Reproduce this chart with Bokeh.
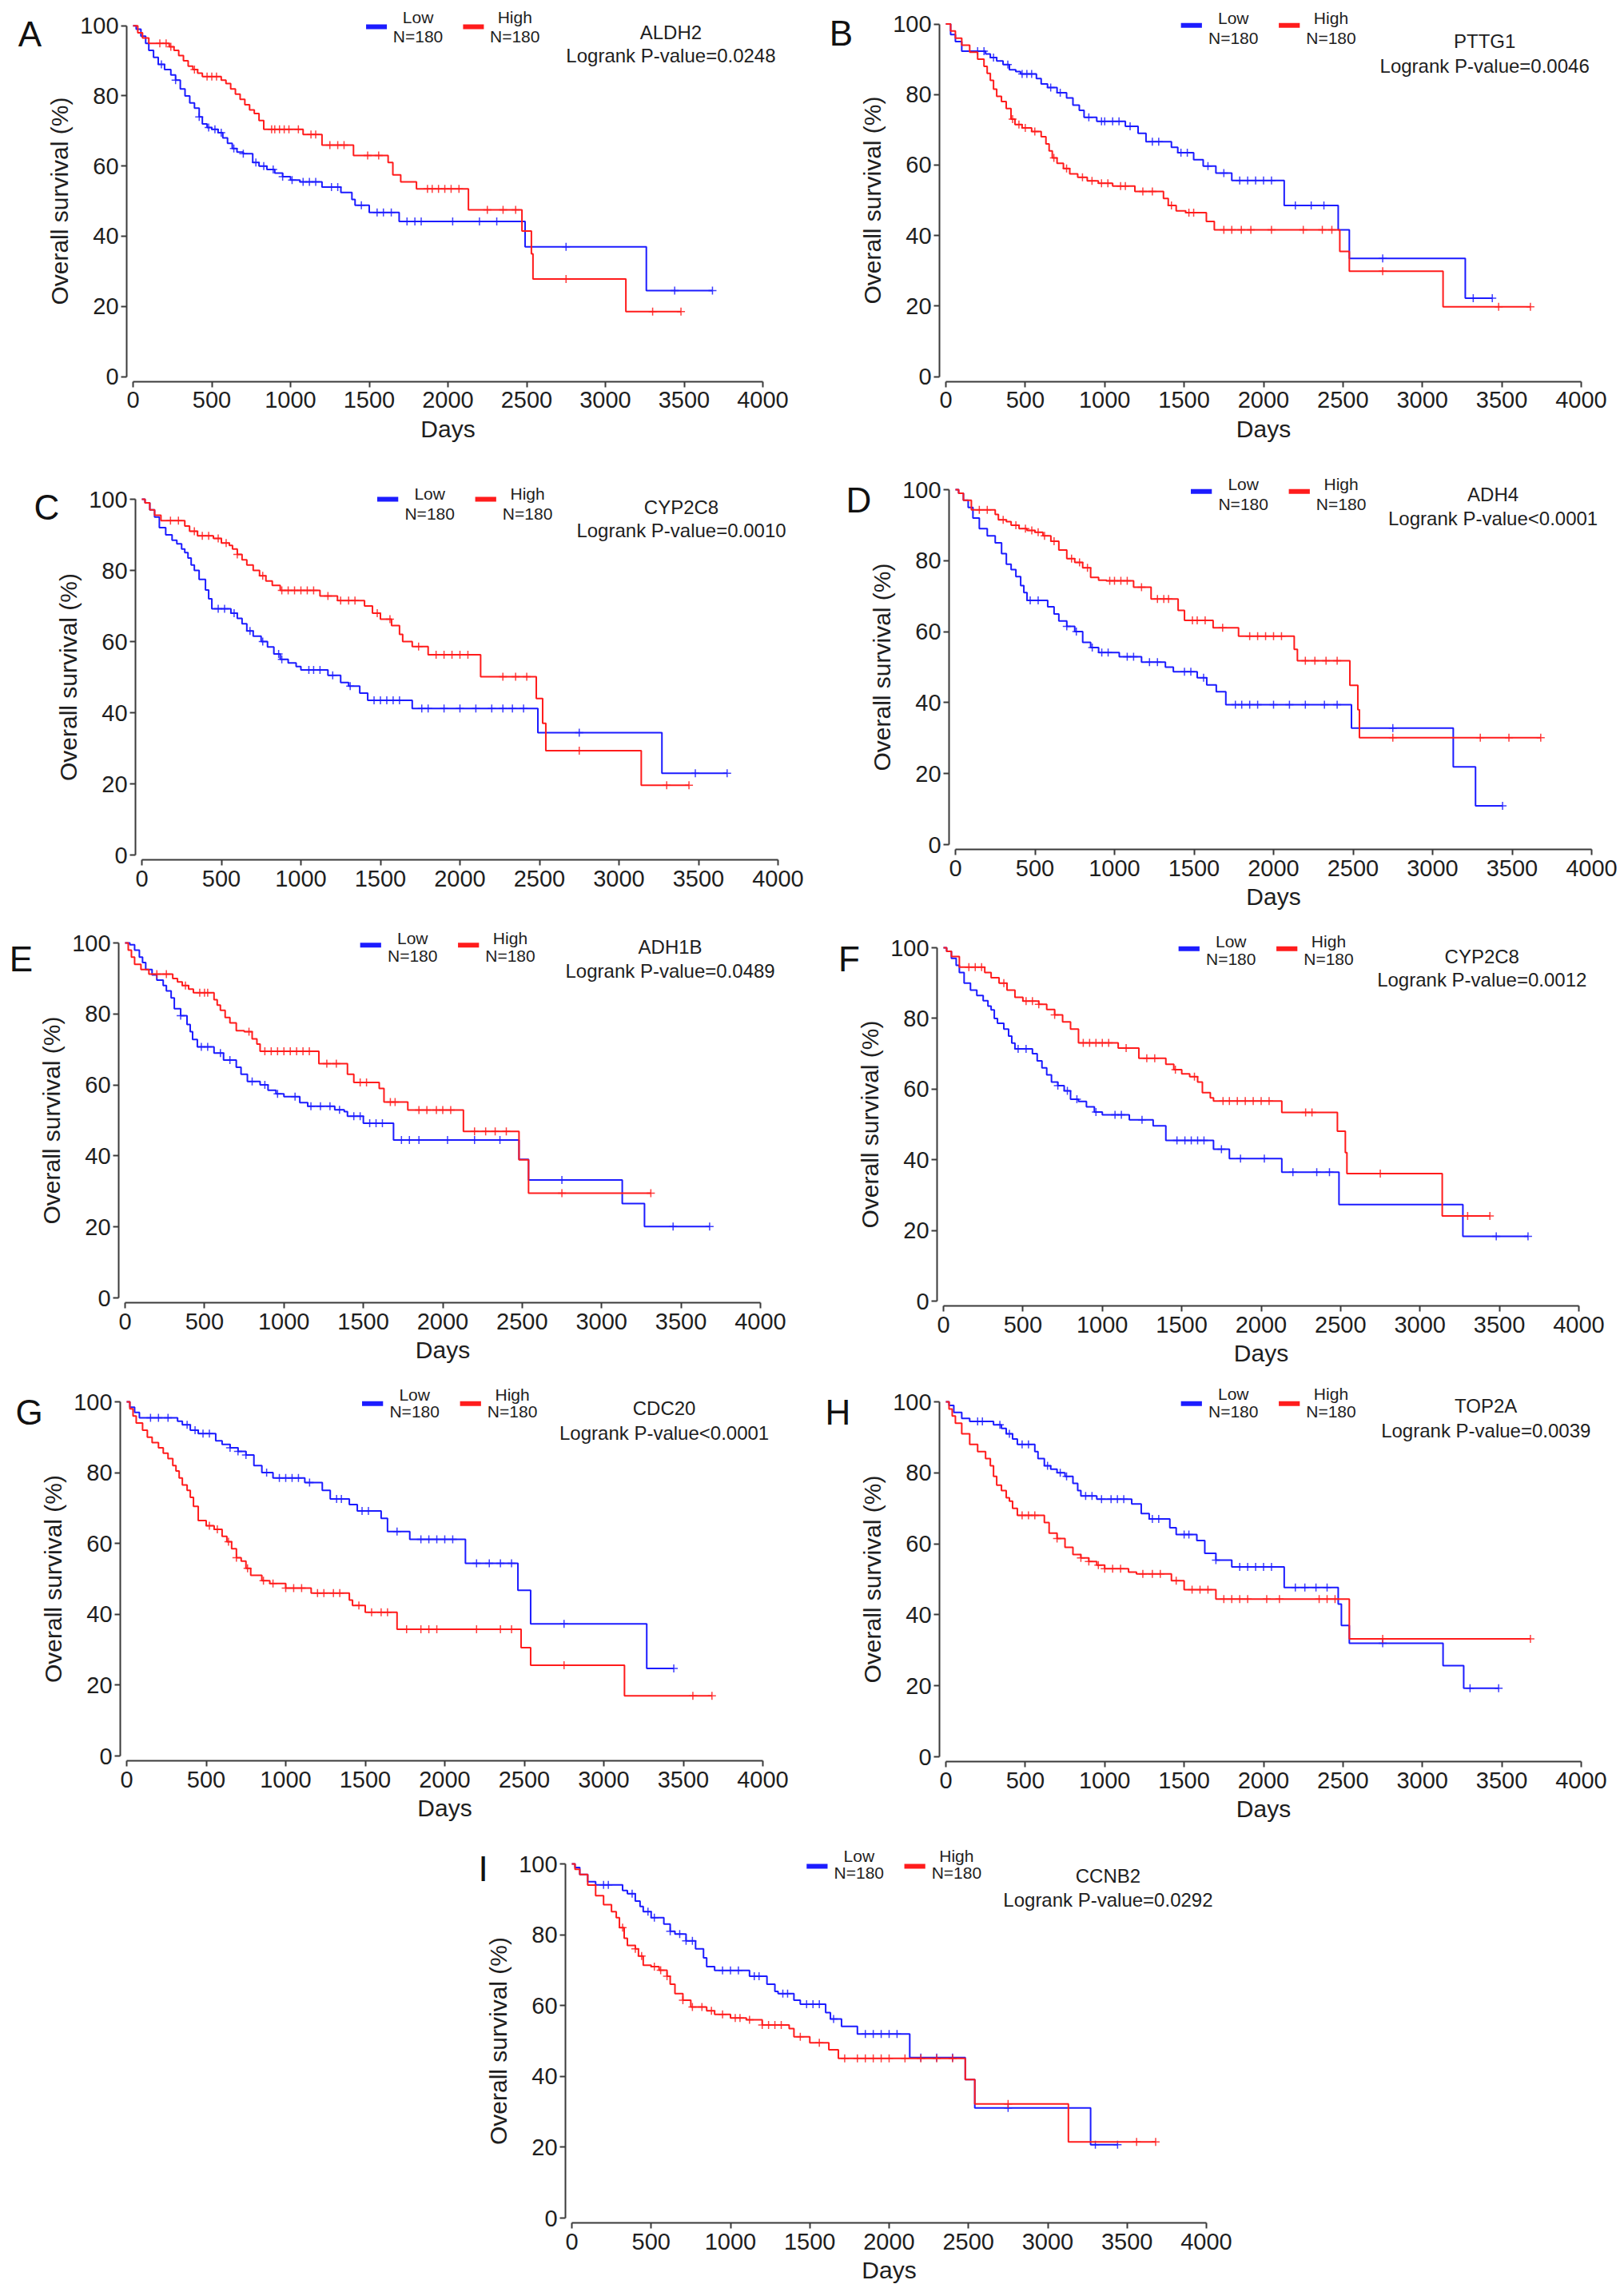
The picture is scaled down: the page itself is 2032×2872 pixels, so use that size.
import math
import numpy as np
from bokeh.plotting import figure
from bokeh.layouts import column, row, Spacer
from bokeh.models import Range1d, FixedTicker, Label
from bokeh.embed import file_html
from bokeh.resources import INLINE

# ---------------- data ----------------
PANELS = ["A", "B", "C", "D", "E", "F", "G", "H", "I"]
GENES = ["ALDH2", "PTTG1", "CYP2C8", "ADH4", "ADH1B", "CYP2C8", "CDC20", "TOP2A", "CCNB2"]
PVALUES = ["Logrank P-value=0.0248", "Logrank P-value=0.0046", "Logrank P-value=0.0010",
           "Logrank P-value<0.0001", "Logrank P-value=0.0489", "Logrank P-value=0.0012",
           "Logrank P-value<0.0001", "Logrank P-value=0.0039", "Logrank P-value=0.0292"]
X_TICKS = [0, 500, 1000, 1500, 2000, 2500, 3000, 3500, 4000]
Y_TICKS = [0, 20, 40, 60, 80, 100]
X_LABEL = "Days"
Y_LABEL = "Overall survival (%)"
GROUP_LABELS = ["Low", "High"]
GROUP_N = ["N=180", "N=180"]

A_low_t = [20, 50, 80, 100, 130, 160, 200, 240, 270, 300, 330, 360, 390, 420, 440, 470, 500, 540, 570, 600, 630, 660, 700, 760, 800, 850, 900, 950, 1000, 1060, 1200, 1320, 1390, 1410, 1500, 1690, 2490, 3260]
A_low_s = [99, 97, 95, 93, 91, 89, 87.5, 86, 84.5, 82, 80, 78, 76.5, 74, 72, 71, 70.5, 69.5, 68, 66.5, 65, 64, 63.5, 61, 60, 59, 58, 57, 56, 55.5, 54, 52.5, 50.5, 48.8, 46.8, 44.2, 37, 24.5]
A_low_end = 3680
A_low_c = [180, 270, 420, 480, 520, 560, 640, 700, 780, 830, 890, 950, 1010, 1080, 1120, 1160, 1260, 1300, 1450, 1550, 1590, 1640, 1740, 1790, 1830, 2030, 2200, 2310, 2750, 3440]
A_high_t = [30, 60, 100, 230, 260, 290, 320, 350, 380, 410, 440, 560, 590, 620, 650, 680, 710, 740, 770, 800, 830, 1080, 1200, 1400, 1620, 1650, 1700, 1800, 2130, 2470, 2530, 2540, 3130]
A_high_s = [98, 96.5, 95, 94, 93, 91.5, 90, 88.5, 87.5, 86.5, 85.5, 84.5, 83.5, 82, 80.5, 79, 77.5, 76, 75, 73, 70.5, 69, 66, 63, 61, 57.5, 55.5, 53.5, 47.5, 41.5, 35, 27.8, 18.5]
A_high_end = 3480
A_high_c = [170, 210, 240, 390, 470, 500, 530, 880, 900, 930, 960, 990, 1050, 1130, 1160, 1250, 1300, 1340, 1490, 1560, 1870, 1900, 1940, 1980, 2020, 2070, 2250, 2350, 2430, 2750, 3300]

B_low_t = [30, 60, 100, 250, 280, 320, 360, 400, 440, 470, 570, 600, 640, 700, 760, 800, 840, 870, 950, 1130, 1210, 1260, 1420, 1460, 1560, 1620, 1700, 1800, 2130, 2470, 2540, 3270]
B_low_s = [97, 95, 92.3, 91.5, 90.5, 89.5, 88.5, 87, 86.5, 85.8, 84.5, 83, 82, 80.5, 79, 77, 75.5, 73.5, 72.4, 71, 69, 66.6, 65, 63.5, 61.5, 59.7, 57.7, 55.6, 48.5, 41.6, 33.5, 22.2]
B_low_end = 3440
B_low_c = [200, 240, 300, 390, 480, 510, 540, 660, 720, 900, 980, 1000, 1050, 1090, 1160, 1300, 1340, 1480, 1520, 1650, 1750, 1850, 1900, 1950, 2000, 2050, 2200, 2300, 2380, 2750, 3320]
B_high_t = [30, 60, 100, 150, 200, 240, 260, 280, 300, 320, 350, 380, 410, 435, 480, 540, 600, 630, 650, 670, 700, 740, 780, 830, 890, 960, 1050, 1190, 1370, 1400, 1450, 1510, 1640, 1690, 2480, 2540, 3130]
B_high_s = [98, 96, 94, 92, 90, 88, 86, 84, 81.5, 79.5, 78, 76, 73, 71.5, 70.5, 69.5, 68, 66, 64, 62, 60.5, 59, 57.5, 56.5, 55.5, 54.8, 54, 52.5, 50.5, 48.5, 47, 46.5, 44, 41.6, 35.5, 29.9, 19.8]
B_high_end = 3680
B_high_c = [420, 460, 500, 560, 680, 760, 860, 920, 980, 1020, 1100, 1130, 1240, 1300, 1420, 1530, 1560, 1750, 1800, 1860, 1920, 2050, 2250, 2370, 2430, 2750, 3480]

C_low_t = [20, 50, 80, 110, 150, 190, 220, 250, 270, 290, 310, 330, 360, 400, 420, 440, 560, 600, 630, 660, 700, 750, 790, 830, 870, 920, 970, 1000, 1170, 1250, 1300, 1370, 1420, 1700, 2490, 3270]
C_low_s = [99, 97, 95, 92, 90, 88.5, 87.5, 86, 85, 83.5, 81.5, 80, 77.5, 74.5, 72, 69.2, 68, 66.5, 65, 63, 61.5, 60, 58.5, 56.5, 55, 54, 53, 52, 50.5, 48.5, 47.5, 45.5, 43.5, 41.2, 34.4, 23]
C_low_end = 3680
C_low_c = [480, 520, 580, 680, 760, 860, 880, 1050, 1080, 1120, 1200, 1310, 1460, 1500, 1540, 1580, 1620, 1760, 1800, 1900, 2000, 2100, 2200, 2270, 2330, 2400, 2750, 3480]
C_high_t = [20, 50, 80, 120, 270, 300, 350, 450, 500, 550, 570, 600, 630, 660, 700, 740, 780, 820, 870, 1120, 1230, 1400, 1450, 1500, 1570, 1620, 1640, 1700, 1800, 2130, 2480, 2520, 2540, 3140]
C_high_s = [99, 97, 95.5, 94, 92.5, 91, 89.7, 89, 87.7, 87, 86, 84.5, 83, 81.5, 80, 78.5, 77, 75.8, 74.4, 72.8, 71.5, 70, 68, 66.3, 64.5, 62, 60, 58.6, 56.3, 50.1, 44, 37, 29.3, 19.6]
C_high_end = 3440
C_high_c = [180, 230, 330, 380, 420, 480, 530, 600, 760, 880, 920, 960, 1000, 1040, 1080, 1170, 1250, 1300, 1340, 1480, 1560, 1740, 1850, 1900, 1950, 2000, 2050, 2270, 2350, 2420, 2750, 3300]

D_low_t = [20, 50, 80, 110, 150, 200, 250, 290, 320, 350, 380, 410, 430, 450, 580, 620, 650, 700, 750, 800, 850, 900, 1030, 1170, 1320, 1370, 1520, 1580, 1640, 1700, 2490, 3130, 3270]
D_low_s = [99, 97, 95, 92, 89, 87, 85, 82, 79, 77.5, 75.5, 73, 71, 68.8, 67, 65, 63, 61.5, 60, 57, 55.5, 54.1, 52.9, 51.4, 50, 48.7, 47, 45, 43.1, 39.4, 32.8, 21.9, 10.9]
D_low_end = 3440
D_low_c = [470, 520, 700, 760, 860, 920, 960, 1080, 1120, 1220, 1270, 1440, 1480, 1560, 1760, 1800, 1850, 1900, 2000, 2100, 2200, 2320, 2400, 2750]
D_high_t = [20, 50, 100, 250, 270, 320, 350, 400, 450, 500, 550, 600, 650, 700, 750, 800, 850, 900, 950, 1120, 1230, 1400, 1440, 1620, 1780, 2130, 2150, 2480, 2530, 2540]
D_high_s = [99, 97, 94.3, 93, 91.5, 91, 90, 89, 88.5, 88, 87, 85.5, 83, 80.6, 79.5, 78, 75.3, 74.5, 74.3, 72.5, 69.2, 66, 63.2, 61.1, 58.7, 55, 51.8, 44.9, 38, 30.1]
D_high_end = 3680
D_high_c = [150, 200, 300, 380, 440, 480, 520, 560, 620, 730, 780, 830, 970, 1000, 1040, 1080, 1170, 1270, 1310, 1340, 1490, 1520, 1570, 1680, 1850, 1900, 1950, 2000, 2050, 2200, 2260, 2330, 2400, 2750, 3300, 3480]

E_low_t = [30, 60, 90, 110, 130, 170, 200, 240, 260, 290, 310, 350, 390, 410, 425, 455, 560, 620, 700, 730, 770, 850, 900, 950, 1000, 1100, 1150, 1320, 1380, 1400, 1500, 1690, 2480, 2540, 3130, 3270]
E_low_s = [99.5, 98, 96, 94.5, 92.5, 91, 89.5, 88, 86.5, 84.5, 81.5, 79.5, 77, 75, 72.8, 70.7, 69, 67, 65, 63, 61, 60, 58.5, 57.5, 56.7, 55, 54, 53, 52.5, 51.2, 49.2, 44.5, 39, 33.2, 26.6, 20.1]
E_low_end = 3680
E_low_c = [350, 480, 520, 600, 660, 800, 880, 960, 1070, 1170, 1230, 1290, 1350, 1440, 1480, 1540, 1580, 1620, 1740, 1790, 1850, 2030, 2200, 2360, 2750, 3450]
E_high_t = [20, 40, 60, 100, 150, 300, 330, 360, 400, 430, 560, 580, 600, 630, 660, 700, 750, 800, 830, 850, 1220, 1400, 1440, 1600, 1630, 1780, 2130, 2480, 2540]
E_high_s = [98, 96, 94, 92.5, 91.2, 90, 89, 88, 87, 86, 84, 82.5, 81, 79, 77.5, 75.3, 75, 73, 71.5, 69.5, 66, 63, 60.7, 59, 55.2, 52.9, 46.9, 38.9, 29.5]
E_high_end = 3310
E_high_c = [200, 260, 380, 470, 500, 520, 780, 880, 920, 960, 1000, 1040, 1080, 1120, 1160, 1270, 1330, 1480, 1520, 1670, 1700, 1850, 1900, 1960, 2000, 2050, 2200, 2270, 2330, 2400, 2750]

F_low_t = [20, 50, 80, 100, 130, 170, 210, 250, 280, 300, 320, 340, 380, 410, 430, 450, 560, 590, 620, 650, 680, 720, 760, 800, 850, 900, 950, 1000, 1170, 1320, 1400, 1700, 1800, 2130, 2490, 3270]
F_low_s = [99, 97, 95, 93, 90, 88, 86.5, 85, 83.5, 82.4, 80, 78.6, 77, 75, 73, 71.4, 70, 68, 66, 64, 62, 61, 59.5, 57.1, 56.5, 55, 53.5, 52.7, 51.3, 49.6, 45.5, 43, 40.3, 36.5, 27.3, 18.3]
F_low_end = 3680
F_low_c = [470, 520, 720, 780, 840, 960, 1080, 1120, 1250, 1470, 1520, 1560, 1600, 1640, 1750, 1870, 2020, 2200, 2350, 2430, 3480]
F_high_t = [20, 50, 100, 260, 300, 350, 400, 450, 500, 600, 650, 700, 750, 800, 850, 1100, 1230, 1400, 1450, 1500, 1550, 1600, 1630, 1680, 1700, 2130, 2480, 2530, 2540, 3140]
F_high_s = [99, 97.5, 94.5, 93, 91.5, 90, 88, 86, 84.9, 84, 82.5, 81, 79, 77, 73.1, 71.6, 68.7, 67, 65.5, 64.3, 63.5, 62, 59, 57.5, 56.6, 53.4, 48.1, 42, 36.1, 24.1]
F_high_end = 3440
F_high_c = [160, 200, 240, 380, 520, 560, 600, 700, 880, 920, 960, 1000, 1040, 1150, 1280, 1330, 1460, 1580, 1760, 1800, 1850, 1900, 1950, 2000, 2050, 2280, 2320, 2750, 3300]

G_low_t = [20, 50, 80, 320, 350, 400, 450, 560, 600, 650, 700, 750, 800, 850, 920, 1120, 1230, 1280, 1400, 1450, 1600, 1640, 1780, 2130, 2460, 2540, 3270]
G_low_s = [98.5, 97, 95.5, 94.5, 93.5, 92, 91, 89, 88, 87, 86, 85, 82, 80, 78.5, 77.2, 75, 72.6, 71, 69.2, 67.1, 63.4, 61.2, 54.4, 46.8, 37.3, 24.7]
G_low_end = 3440
G_low_c = [150, 200, 260, 380, 430, 480, 520, 650, 700, 750, 880, 960, 1000, 1040, 1080, 1150, 1320, 1350, 1480, 1520, 1700, 1850, 1900, 1950, 2000, 2050, 2200, 2280, 2350, 2420, 2750]
G_high_t = [20, 40, 60, 100, 130, 160, 200, 230, 260, 290, 310, 330, 350, 380, 400, 420, 450, 500, 550, 600, 630, 660, 690, 720, 750, 780, 850, 900, 1000, 1160, 1400, 1420, 1500, 1700, 2480, 2540, 3130]
G_high_s = [98, 96, 94, 92, 90, 88.5, 87, 85.5, 84, 82, 80.5, 78.5, 76.5, 75, 73, 70.5, 66.5, 65, 64, 62, 60.5, 58.5, 56, 55, 53, 51, 49.5, 48.7, 47.4, 46, 44, 42.5, 40.6, 35.8, 30.6, 25.6, 17]
G_high_end = 3680
G_high_c = [520, 570, 640, 690, 760, 860, 920, 1000, 1050, 1100, 1200, 1240, 1300, 1340, 1460, 1540, 1600, 1640, 1760, 1850, 1900, 1950, 2200, 2350, 2420, 2750, 3560]

H_low_t = [20, 50, 100, 150, 300, 350, 380, 420, 450, 560, 580, 620, 660, 700, 750, 800, 830, 850, 950, 1170, 1230, 1280, 1410, 1450, 1580, 1630, 1700, 1800, 2130, 2470, 2490, 2540, 3130, 3260]
H_low_s = [99, 97, 95.3, 94.5, 93.5, 92.5, 91, 89.5, 88, 86, 84, 82, 81, 80, 79, 77, 75, 73.5, 72.6, 71.2, 68.5, 67, 64.5, 62.6, 60.9, 57.3, 55.4, 53.5, 47.7, 43, 37, 32, 25.7, 19.3]
H_low_end = 3480
H_low_c = [200, 230, 340, 400, 480, 520, 640, 720, 760, 880, 920, 980, 1040, 1080, 1120, 1300, 1340, 1500, 1530, 1700, 1850, 1900, 1950, 2000, 2050, 2200, 2260, 2330, 2400, 2750, 3300]
H_high_t = [20, 40, 60, 100, 150, 200, 250, 280, 300, 320, 350, 380, 400, 420, 450, 620, 650, 700, 750, 800, 850, 900, 950, 1000, 1150, 1200, 1420, 1500, 1700, 2540]
H_high_s = [98, 96, 94, 91, 88, 86, 84, 82, 79, 76.5, 75, 73, 72, 70, 68, 66, 63, 61.5, 59, 57, 56, 55, 54, 53, 52, 51.5, 49.6, 47.1, 44.4, 33.2]
H_high_end = 3680
H_high_c = [480, 520, 560, 700, 850, 900, 960, 1000, 1050, 1100, 1240, 1300, 1350, 1450, 1550, 1600, 1650, 1750, 1800, 1850, 1900, 2020, 2100, 2350, 2400, 2450, 2750]

I_low_t = [20, 50, 100, 150, 320, 350, 400, 430, 450, 500, 580, 620, 650, 720, 780, 830, 850, 900, 1120, 1230, 1280, 1300, 1400, 1440, 1600, 1630, 1700, 1800, 2130, 2480, 2540, 3270]
I_low_s = [99, 97, 95, 94.1, 92.5, 91.6, 89.5, 88, 86.5, 84.8, 83, 81, 80.2, 78.3, 76, 73.5, 71, 69.9, 68.3, 66, 64, 63.4, 61.5, 60.4, 58, 56.2, 54.1, 52, 45.3, 39.1, 31.1, 20.7]
I_low_end = 3440
I_low_c = [200, 230, 380, 480, 520, 620, 680, 720, 760, 950, 1000, 1050, 1150, 1180, 1330, 1360, 1480, 1520, 1560, 1650, 1850, 1900, 1950, 2000, 2050, 2200, 2300, 2400, 2750, 3300]
I_high_t = [20, 50, 100, 150, 200, 250, 280, 300, 330, 350, 400, 420, 450, 500, 550, 600, 620, 650, 700, 750, 850, 900, 1000, 1100, 1200, 1370, 1400, 1500, 1620, 1680, 2480, 2540, 3130]
I_high_s = [98.5, 97, 94, 91, 88.5, 86.5, 84.8, 82, 79, 77, 76, 74, 71.4, 71, 70, 68.3, 66, 63.4, 61.5, 59.6, 58.5, 57.5, 56.5, 56, 54.5, 53.5, 51.2, 49.5, 47.5, 45.1, 39.1, 32.2, 21.5]
I_high_end = 3680
I_high_c = [320, 400, 440, 520, 560, 600, 700, 760, 820, 880, 950, 1030, 1060, 1120, 1200, 1240, 1280, 1320, 1440, 1560, 1720, 1800, 1850, 1900, 1950, 2000, 2100, 2200, 2300, 2400, 2750, 3560]

G_ = globals()
CURVES = {k: {"low": (G_[k + "_low_t"], G_[k + "_low_s"], G_[k + "_low_end"], G_[k + "_low_c"]),
              "high": (G_[k + "_high_t"], G_[k + "_high_s"], G_[k + "_high_end"], G_[k + "_high_c"])}
          for k in PANELS}

# ---------------- layout / style (page pixel positions) ----------------
GEOM = {
    "A": dict(x0=166, x4=954, y100=31.7, y0=470.5, fx=0, fy=0, W=1015, H=572, lx=37, ly=42,
              ys=99.7, yl=102.4, yn=97.0, gx=3416, yg=98.1, yp=91.5, days=True),
    "B": dict(x0=1183, x4=1978, y100=29.5, y0=470.5, fx=1015, fy=0, W=1015, H=572, lx=1052, ly=41,
              ys=99.6, yl=101.6, yn=96.0, gx=3392, yg=95.1, yp=88.0, days=True),
    "C": dict(x0=177, x4=973, y100=624, y0=1069, fx=0, fy=572, W=1015, H=586, lx=58, ly=634,
              ys=100.0, yl=101.5, yn=96.0, gx=3392, yg=97.8, yp=91.3, days=False),
    "D": dict(x0=1195, x4=1991, y100=612, y0=1056, fx=1015, fy=572, W=1015, H=586, lx=1074, ly=625,
              ys=99.5, yl=101.6, yn=96.0, gx=3380, yg=98.7, yp=91.9, days=True),
    "E": dict(x0=156, x4=951, y100=1179, y0=1623, fx=0, fy=1158, W=1015, H=570, lx=26, ly=1199,
              ys=99.4, yl=101.3, yn=96.4, gx=3432, yg=98.9, yp=92.1, days=True),
    "F": dict(x0=1180, x4=1975, y100=1185, y0=1627, fx=1015, fy=1158, W=1015, H=570, lx=1062, ly=1199,
              ys=99.7, yl=101.8, yn=96.8, gx=3390, yg=97.5, yp=91.0, days=True),
    "G": dict(x0=158, x4=954, y100=1753, y0=2196, fx=0, fy=1728, W=1015, H=564, lx=36, ly=1766,
              ys=99.5, yl=102.0, yn=97.3, gx=3380, yg=98.2, yp=91.3, days=True),
    "H": dict(x0=1183, x4=1978, y100=1753, y0=2197, fx=1015, fy=1728, W=1015, H=564, lx=1048, ly=1766,
              ys=99.5, yl=102.2, yn=97.3, gx=3400, yg=98.8, yp=92.0, days=True),
    "I": dict(x0=715, x4=1509, y100=2331, y0=2774, fx=500, fy=2292, W=1100, H=578, lx=604, ly=2337,
              ys=99.3, yl=102.3, yn=97.5, gx=3380, yg=96.6, yp=89.8, days=True),
}
FONT = "Liberation Sans"
COLORS = {"low": "#1c1cff", "high": "#ff1c1c"}
AXIS_COLOR = "#3a3a3a"
TEXT_COLOR = "#1e1e1e"
LEG_SEG = {"low": (1480, 1612), "high": (2096, 2228)}
LEG_TXT_X = {"low": 1810, "high": 2425}
YAXIS_AT, XAXIS_AT = -40.0, -1.4
YLABEL_OFFSET_PX = 92     # axis-title centre, left of x=0
XLABEL_OFFSET_PX = 65     # axis-title centre, below y=0


def surv_at(t, s, c):
    vals = np.concatenate([[100.0], np.asarray(s, dtype=float)])
    idx = np.searchsorted(np.asarray(t, dtype=float), np.asarray(c, dtype=float), side="right")
    return vals[idx]


def make_panel(key, gene, ptxt):
    g = GEOM[key]
    ppd = (g["x4"] - g["x0"]) / 4000.0
    ppp = (g["y0"] - g["y100"]) / 100.0
    xlo = (g["fx"] - g["x0"]) / ppd
    xhi = (g["fx"] + g["W"] - g["x0"]) / ppd
    yhi = 100 + (g["y100"] - g["fy"]) / ppp
    ylo = 100 - (g["fy"] + g["H"] - g["y100"]) / ppp
    p = figure(width=g["W"], height=g["H"], x_range=Range1d(xlo, xhi), y_range=Range1d(ylo, yhi),
               min_border_left=0, min_border_right=0, min_border_top=0, min_border_bottom=0,
               output_backend="svg", toolbar_location=None)
    p.outline_line_color = None
    p.xgrid.visible = False
    p.ygrid.visible = False
    p.background_fill_color = "white"
    p.border_fill_color = "white"

    for ax in (p.xaxis[0], p.yaxis[0]):
        ax.axis_line_color = AXIS_COLOR
        ax.axis_line_width = 2
        ax.major_tick_line_color = AXIS_COLOR
        ax.major_tick_line_width = 2
        ax.major_tick_out = 7
        ax.major_tick_in = 0
        ax.minor_tick_line_color = None
        ax.major_label_text_font = FONT
        ax.major_label_text_font_size = "29px"
        ax.major_label_text_color = TEXT_COLOR
    p.xaxis.bounds = (0, 4000)
    p.yaxis.bounds = (0, 100)
    p.yaxis.fixed_location = YAXIS_AT
    p.xaxis.fixed_location = XAXIS_AT
    p.xaxis.ticker = FixedTicker(ticks=X_TICKS)
    p.yaxis.ticker = FixedTicker(ticks=Y_TICKS)
    p.xaxis.major_label_standoff = 6
    p.yaxis.major_label_standoff = 3

    # axis titles
    if g["days"]:
        p.add_layout(Label(x=2000, y=100 - (g["y0"] + XLABEL_OFFSET_PX - g["y100"]) / ppp, text=X_LABEL,
                           text_align="center", text_baseline="middle", text_font=FONT,
                           text_font_size="30px", text_color=TEXT_COLOR))
    p.add_layout(Label(x=-YLABEL_OFFSET_PX / ppd, y=50, text=Y_LABEL, angle=math.pi / 2,
                       text_align="center", text_baseline="middle", text_font=FONT,
                       text_font_size="30px", text_color=TEXT_COLOR))

    for grp in ("low", "high"):
        t, s, end, cens = CURVES[key][grp]
        xs = [0] + list(t) + [end]
        ys = [100] + list(s) + [s[-1]]
        p.step(xs, ys, mode="after", line_color=COLORS[grp], line_width=2)
        cx = list(cens) + [end]
        p.scatter(cx, surv_at(t, s, cx), marker="cross", size=10, line_width=1.5,
                  line_color=COLORS[grp], alpha=0.85)

    for i, grp in enumerate(("low", "high")):
        x1, x2 = LEG_SEG[grp]
        p.line([x1, x2], [g["ys"], g["ys"]], line_color=COLORS[grp], line_width=6)
        p.add_layout(Label(x=LEG_TXT_X[grp], y=g["yl"], text=GROUP_LABELS[i], text_align="center",
                           text_baseline="middle", text_font=FONT, text_font_size="21px",
                           text_color=TEXT_COLOR))
        p.add_layout(Label(x=LEG_TXT_X[grp], y=g["yn"], text=GROUP_N[i], text_align="center",
                           text_baseline="middle", text_font=FONT, text_font_size="21px",
                           text_color=TEXT_COLOR))
    p.add_layout(Label(x=g["gx"], y=g["yg"], text=gene, text_align="center", text_baseline="middle",
                       text_font=FONT, text_font_size="24px", text_color=TEXT_COLOR))
    p.add_layout(Label(x=g["gx"], y=g["yp"], text=ptxt, text_align="center", text_baseline="middle",
                       text_font=FONT, text_font_size="24px", text_color=TEXT_COLOR))
    # panel letter
    p.add_layout(Label(x=(g["lx"] - g["x0"]) / ppd, y=100 - (g["ly"] - g["y100"]) / ppp, text=key,
                       text_align="center", text_baseline="middle", text_font=FONT,
                       text_font_size="44px", text_color="#111111"))
    return p


figs = {k: make_panel(k, GENES[i], PVALUES[i]) for i, k in enumerate(PANELS)}

layout = column(
    row(figs["A"], figs["B"]),
    row(figs["C"], figs["D"]),
    row(figs["E"], figs["F"]),
    row(figs["G"], figs["H"]),
    row(Spacer(width=GEOM["I"]["fx"], height=GEOM["I"]["H"]), figs["I"]),
)

open("out.html", "w").write(file_html(layout, INLINE))
